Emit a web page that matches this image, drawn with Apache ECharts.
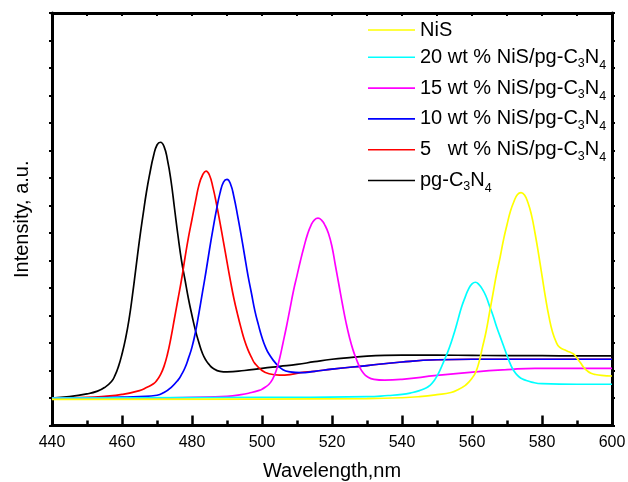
<!DOCTYPE html>
<html>
<head>
<meta charset="utf-8">
<script src="https://cdn.jsdelivr.net/npm/echarts@6/dist/echarts.min.js"></script>
<style>
  html, body { margin: 0; padding: 0; background: #fff; }
  #chart { width: 628px; height: 482px; }
</style>
</head>
<body>
<div id="chart"></div>
<script>
// Photoluminescence spectra: wavelength (nm) and intensity (a.u.) per sample

const wlPg = [440, 445, 450, 453, 455, 457, 458, 459, 460, 461, 462, 463, 464, 465, 466, 467, 468, 469, 470, 471, 472, 473, 474, 475, 476, 477, 478, 479, 480, 481, 482, 483, 484, 485, 486, 488, 490, 495, 500, 505, 510, 515, 520, 525, 530, 535, 540, 550, 560, 570, 580, 590, 600];
const inPg = [1.0, 1.05, 1.15, 1.25, 1.38, 1.6, 1.82, 2.15, 2.6, 3.15, 3.85, 4.75, 5.75, 6.75, 7.65, 8.5, 9.2, 9.8, 10.2, 10.3, 10.15, 9.65, 8.9, 7.9, 6.9, 6.0, 5.3, 4.6, 4.0, 3.45, 3.0, 2.62, 2.37, 2.2, 2.08, 1.97, 1.95, 2.0, 2.08, 2.15, 2.22, 2.32, 2.41, 2.47, 2.52, 2.55, 2.56, 2.56, 2.55, 2.54, 2.54, 2.53, 2.53];

const wl5 = [440, 450, 455, 460, 465, 467, 469, 470, 471, 472, 473, 474, 475, 476, 477, 478, 479, 480, 481, 482, 483, 484, 485, 486, 487, 488, 489, 490, 491, 492, 493, 494, 495, 496, 497, 498, 500, 502, 505, 508, 511, 515, 520, 530, 540, 550, 560, 580, 600];
const in5 = [1.0, 1.02, 1.06, 1.13, 1.27, 1.38, 1.52, 1.65, 1.85, 2.15, 2.6, 3.2, 3.9, 4.6, 5.3, 6.1, 6.85, 7.5, 8.15, 8.75, 9.1, 9.25, 9.1, 8.65, 8.05, 7.38, 6.67, 5.95, 5.25, 4.6, 4.05, 3.55, 3.1, 2.75, 2.48, 2.25, 2.0, 1.88, 1.83, 1.85, 1.92, 1.97, 2.05, 2.18, 2.31, 2.39, 2.41, 2.41, 2.41];

const wl10 = [440, 450, 460, 465, 470, 472, 474, 476, 477, 478, 479, 480, 481, 482, 483, 484, 485, 486, 487, 488, 489, 490, 491, 492, 493, 494, 495, 496, 497, 498, 499, 500, 501, 502, 504, 506, 508, 511, 515, 520, 530, 540, 550, 560, 580, 600];
const in10 = [1.0, 1.01, 1.03, 1.05, 1.1, 1.2, 1.38, 1.65, 1.85, 2.1, 2.45, 2.85, 3.4, 4.1, 4.85, 5.6, 6.4, 7.15, 7.85, 8.45, 8.85, 8.95, 8.78, 8.3, 7.65, 6.95, 6.2, 5.45, 4.8, 4.15, 3.65, 3.2, 2.85, 2.6, 2.25, 2.03, 1.95, 1.92, 1.97, 2.05, 2.18, 2.31, 2.39, 2.41, 2.41, 2.41];

const wl15 = [440, 470, 480, 490, 494, 497, 499, 500, 501, 502, 503, 504, 505, 506, 507, 508, 509, 510, 511, 512, 513, 514, 515, 516, 517, 518, 519, 520, 521, 522, 523, 524, 525, 526, 527, 528, 529, 530, 532, 535, 540, 550, 561, 570, 578, 600];
const in15 = [1.0, 1.0, 1.02, 1.06, 1.12, 1.2, 1.27, 1.32, 1.4, 1.5, 1.68, 1.97, 2.42, 3.0, 3.6, 4.25, 4.9, 5.45, 6.0, 6.5, 6.95, 7.28, 7.48, 7.54, 7.47, 7.28, 6.98, 6.5, 5.8, 5.1, 4.4, 3.75, 3.2, 2.75, 2.4, 2.1, 1.9, 1.78, 1.68, 1.65, 1.68, 1.82, 1.95, 2.03, 2.08, 2.08];

const wl20 = [440, 500, 530, 536, 540, 543, 545, 547, 548, 549, 550, 551, 552, 553, 554, 555, 556, 557, 558, 559, 560, 561, 562, 563, 564, 565, 566, 567, 568, 569, 570, 571, 572, 573, 574, 575, 577, 580, 590, 600];
const in20 = [1.0, 1.02, 1.05, 1.09, 1.13, 1.2, 1.27, 1.37, 1.46, 1.6, 1.8, 2.05, 2.35, 2.65, 3.0, 3.4, 3.85, 4.3, 4.65, 4.96, 5.15, 5.21, 5.12, 4.95, 4.7, 4.35, 4.0, 3.6, 3.25, 2.9, 2.55, 2.22, 1.98, 1.82, 1.72, 1.66, 1.58, 1.52, 1.5, 1.5];

const wlNiS = [440, 500, 530, 540, 545, 550, 554, 556, 558, 559, 560, 561, 562, 563, 564, 565, 566, 567, 568, 569, 570, 571, 572, 573, 574, 575, 576, 577, 578, 579, 580, 581, 582, 583, 584, 585, 587, 589, 590, 591, 592, 593, 594, 595, 597, 600];
const inNiS = [0.95, 0.96, 0.98, 1.01, 1.05, 1.12, 1.2, 1.3, 1.45, 1.57, 1.72, 1.92, 2.3, 2.85, 3.4, 4.1, 4.8, 5.5, 6.1, 6.75, 7.3, 7.8, 8.15, 8.4, 8.47, 8.38, 8.1, 7.65, 7.0, 6.25, 5.45, 4.65, 3.95, 3.4, 3.05, 2.85, 2.72, 2.6, 2.45, 2.28, 2.1, 1.98, 1.9, 1.86, 1.82, 1.8];

// series names (legend order) and colours
const names = ['NiS', '20 wt % NiS/pg-C3N4', '15 wt % NiS/pg-C3N4', '10 wt % NiS/pg-C3N4', '5   wt % NiS/pg-C3N4', 'pg-C3N4'];
const colors = ['#ffff00', '#00ffff', '#ff00ff', '#0000ff', '#ff0000', '#000000'];
const xTicks = { min: 440, max: 600, step: 20 };

const FONT = '"Liberation Sans", Arial, Helvetica, sans-serif';

const zip = (xs, ys) => xs.map((x, i) => [x, ys[i]]);
const curves = [
  zip(wlNiS, inNiS), zip(wl20, in20), zip(wl15, in15),
  zip(wl10, in10), zip(wl5, in5), zip(wlPg, inPg)
];

// drawn from pg-C3N4 upward so the NiS traces sit on top
const series = [];
for (let i = names.length - 1; i >= 0; i--) {
  series.push({
    name: names[i],
    type: 'line',
    data: curves[i],
    symbol: 'none',
    smooth: 0.5,
    lineStyle: { color: colors[i], width: 1.7 },
    itemStyle: { color: colors[i] },
    emphasis: { disabled: true }
  });
}

const axisLine = { show: true, onZero: false, lineStyle: { color: '#000', width: 3 } };

const chart = echarts.init(document.getElementById('chart'), null, { renderer: 'canvas' });
chart.setOption({
  animation: false,
  backgroundColor: '#fff',
  grid: { left: 52, right: 16, top: 13, bottom: 56.5, containLabel: false, outerBoundsMode: 'none' },
  legend: {
    orient: 'vertical',
    left: 368,
    top: 19,
    padding: 0,
    icon: 'rect',
    itemWidth: 47,
    itemHeight: 1.6,
    itemGap: 1.8,
    data: names,
    selectedMode: false,
    formatter: function (name) {
      return name.replace('C3N4', 'C{s3|3}N{s4|4}');
    },
    textStyle: {
      fontFamily: FONT,
      fontSize: 20,
      lineHeight: 22,
      color: '#000',
      rich: {
        s3: { fontFamily: FONT, fontSize: 12.5, lineHeight: 14, color: '#000', padding: [13, 0, 0, 0] },
        s4: { fontFamily: FONT, fontSize: 12.5, lineHeight: 14, color: '#000', padding: [16, 0, 0, 0] }
      }
    }
  },
  xAxis: [
    {
      type: 'value',
      position: 'bottom',
      min: xTicks.min,
      max: xTicks.max,
      interval: xTicks.step,
      axisLine: axisLine,
      axisTick: { show: true, inside: true, length: 10, lineStyle: { color: '#000', width: 2.5 } },
      minorTick: { show: true, splitNumber: 2, length: 5, lineStyle: { color: '#000', width: 2.5 } },
      axisLabel: { margin: 9, fontSize: 16, color: '#000', fontFamily: FONT },
      splitLine: { show: false },
      minorSplitLine: { show: false },
      name: 'Wavelength,nm',
      nameLocation: 'middle',
      nameGap: 36,
      nameTextStyle: { fontSize: 20, color: '#000', fontFamily: FONT }
    },
    {
      type: 'value',
      position: 'top',
      min: xTicks.min,
      max: xTicks.max,
      interval: 10,
      axisLine: axisLine,
      axisTick: { show: true, inside: true, length: 3, lineStyle: { color: '#000', width: 2 } },
      axisLabel: { show: false },
      splitLine: { show: false }
    }
  ],
  yAxis: [
    {
      type: 'value',
      position: 'left',
      min: 0,
      max: 15,
      interval: 1,
      axisLine: axisLine,
      axisTick: { show: true, length: 3, lineStyle: { color: '#000', width: 2 } },
      axisLabel: { show: false },
      splitLine: { show: false },
      name: 'Intensity, a.u.',
      nameLocation: 'middle',
      nameGap: 20,
      nameTextStyle: { fontSize: 20, color: '#000', fontFamily: FONT }
    },
    {
      type: 'value',
      position: 'right',
      min: 0,
      max: 15,
      interval: 1,
      axisLine: axisLine,
      axisTick: { show: true, length: 3, lineStyle: { color: '#000', width: 2 } },
      axisLabel: { show: false },
      splitLine: { show: false }
    }
  ],
  series: series
});
</script>
</body>
</html>
